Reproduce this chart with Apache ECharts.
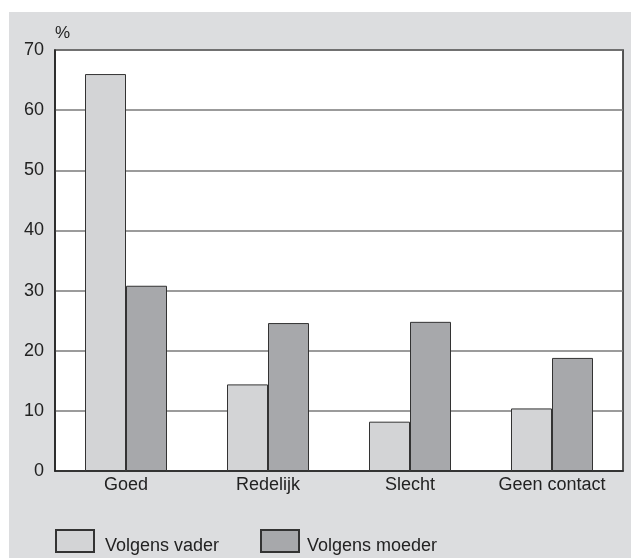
<!DOCTYPE html>
<html><head><meta charset="utf-8">
<script src="https://cdn.jsdelivr.net/npm/echarts@6/dist/echarts.min.js"></script>
<style>html,body{margin:0;padding:0;background:#fff}#c{width:631px;height:558px}</style>
</head><body><div id="c"></div>
<script>
const categories = ['Goed', 'Redelijk', 'Slecht', 'Geen contact'];
const seriesNames = ['Volgens vader', 'Volgens moeder'];
const vader = [66, 14.4, 8.2, 10.4];
const moeder = [30.8, 24.6, 24.8, 18.8];
const yTicks = [0, 10, 20, 30, 40, 50, 60, 70];

const FONT = 'Liberation Sans, Arial, Helvetica, sans-serif';
const legendText = (padLeft) => ({
  fontFamily: FONT, fontSize: 18, color: '#222',
  rich: {t: {fontFamily: FONT, fontSize: 18, color: '#222', padding: [11, 0, 0, padLeft]}}
});
const chart = echarts.init(document.getElementById('c'), null, {renderer: 'canvas'});
chart.setOption({
  backgroundColor: '#ffffff',
  animation: false,
  graphic: [{
    type: 'rect', z: -10, silent: true,
    shape: {x: 9, y: 12, width: 622, height: 546},
    style: {fill: '#dcdddf'}
  }],
  grid: {left: 55, top: 50, right: 8, bottom: 87, show: true, backgroundColor: '#ffffff', borderColor: '#222', borderWidth: 1.5, containLabel: false},
  legend: [{
    data: [seriesNames[0]], left: 55, top: 529, itemWidth: 38, itemHeight: 22, itemGap: 0, padding: 0,
    icon: 'rect', formatter: '{t|{name}}', textStyle: legendText(6)
  }, {
    data: [seriesNames[1]], left: 260, top: 529, itemWidth: 38, itemHeight: 22, itemGap: 0, padding: 0,
    icon: 'rect', formatter: '{t|{name}}', textStyle: legendText(3)
  }],
  xAxis: {
    type: 'category', data: categories,
    axisLine: {lineStyle: {color: '#222', width: 1.5}},
    axisTick: {show: false},
    axisLabel: {fontFamily: FONT, fontSize: 18, color: '#222', margin: 5}
  },
  yAxis: {
    type: 'value', min: yTicks[0], max: yTicks[yTicks.length - 1], interval: 10,
    name: '%', nameLocation: 'end', nameGap: 8,
    nameTextStyle: {fontFamily: FONT, fontSize: 17, color: '#222', align: 'left', padding: 0},
    axisLine: {show: true, lineStyle: {color: '#222', width: 1.5}},
    axisTick: {show: false},
    axisLabel: {fontFamily: FONT, fontSize: 18, color: '#222', margin: 11},
    splitLine: {lineStyle: {color: '#7a7a7a', width: 1.5}}
  },
  series: [{
    name: seriesNames[0], type: 'bar', data: vader, barWidth: 41, barGap: '0%',
    itemStyle: {color: '#d3d4d6', borderColor: '#333', borderWidth: 1}
  }, {
    name: seriesNames[1], type: 'bar', data: moeder, barWidth: 41, barGap: '0%',
    itemStyle: {color: '#a7a8ab', borderColor: '#333', borderWidth: 1}
  }]
});
</script></body></html>
